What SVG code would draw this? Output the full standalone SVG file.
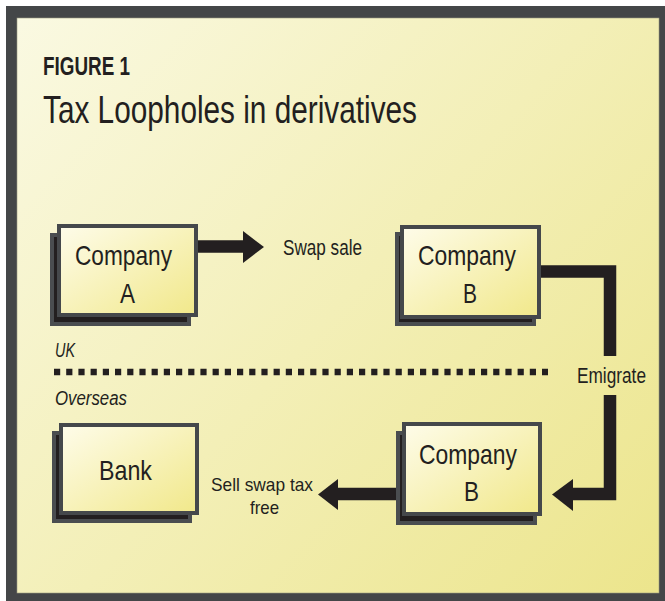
<svg xmlns="http://www.w3.org/2000/svg" width="665" height="601" viewBox="0 0 665 601">
  <defs>
    <linearGradient id="bg" gradientUnits="userSpaceOnUse" x1="17" y1="18" x2="659" y2="593">
      <stop offset="0" stop-color="#faf9e2"/>
      <stop offset="1" stop-color="#ece58c"/>
    </linearGradient>
    <linearGradient id="boxfill" x1="0" y1="0" x2="1" y2="1">
      <stop offset="0" stop-color="#fefcea"/>
      <stop offset="1" stop-color="#f1e88a"/>
    </linearGradient>
  </defs>
  <style>
    .txt { font-family: "Liberation Sans Narrow", "Liberation Sans", Arial, sans-serif; fill: #231f20; }
    .box { fill: url(#boxfill); stroke: #45484b; stroke-width: 4; }
    .shadow { fill: #231f20; stroke: #4a4d50; stroke-width: 4; }
    .bar { fill: none; stroke: #231f20; stroke-width: 12.5; stroke-linejoin: miter; stroke-linecap: butt; }
    .head { fill: #231f20; }
    .boxlabel { font-size: 28px; text-anchor: middle; }
    .label { font-size: 22px; }
    .small { font-size: 19px; }
  </style>

  <!-- frame -->
  <rect x="6" y="6" width="659" height="595" fill="#444648"/>
  <rect x="17" y="18" width="642" height="575" fill="url(#bg)" stroke="#9a9a80" stroke-width="0.6"/>

  <!-- titles -->
  <text class="txt" x="43" y="75" font-size="25" font-weight="bold" textLength="87" lengthAdjust="spacingAndGlyphs">FIGURE 1</text>
  <text class="txt" x="43" y="123" font-size="39" textLength="374" lengthAdjust="spacingAndGlyphs">Tax Loopholes in derivatives</text>

  <!-- region labels and divider -->
  <g id="divider">
    <text class="txt" x="55" y="357" font-size="20" font-style="italic" textLength="20" lengthAdjust="spacingAndGlyphs">UK</text>
    <line x1="54" y1="372" x2="548" y2="372" stroke="#231f20" stroke-width="6.5" stroke-dasharray="6.2 6"/>
    <text class="txt" x="55" y="405" font-size="20" font-style="italic" textLength="72" lengthAdjust="spacingAndGlyphs">Overseas</text>
  </g>

  <!-- connectors -->
  <g id="connectors">
    <line class="bar" x1="198" y1="246.5" x2="244" y2="246.5"/>
    <polygon class="head" points="243,231 264,247 243,263"/>
    <text class="txt label" x="283" y="255" textLength="79" lengthAdjust="spacingAndGlyphs">Swap sale</text>

    <path class="bar" d="M541,271.5 H610 V356"/>
    <path class="bar" d="M610,395 V494 H572"/>
    <polygon class="head" points="573,479 552,494.5 573,511"/>
    <text class="txt label" x="577" y="383" textLength="69" lengthAdjust="spacingAndGlyphs">Emigrate</text>

    <line class="bar" x1="400" y1="494" x2="337" y2="494"/>
    <polygon class="head" points="338,479 318,494.5 338,510"/>
    <text class="txt small" x="211" y="491" textLength="102" lengthAdjust="spacingAndGlyphs">Sell swap tax</text>
    <text class="txt small" x="250" y="514" textLength="29" lengthAdjust="spacingAndGlyphs">free</text>
  </g>

  <!-- nodes -->
  <g id="company-a">
    <rect class="shadow" x="52" y="235" width="137" height="89"/>
    <rect class="box" x="59" y="226" width="137" height="89"/>
    <text class="txt boxlabel" x="123.5" y="265" textLength="97" lengthAdjust="spacingAndGlyphs">Company</text>
    <text class="txt boxlabel" x="127.5" y="303" textLength="15" lengthAdjust="spacingAndGlyphs">A</text>
  </g>

  <g id="company-b-uk">
    <rect class="shadow" x="397" y="234" width="137" height="90"/>
    <rect class="box" x="402" y="227" width="137" height="90"/>
    <text class="txt boxlabel" x="467" y="265" textLength="98" lengthAdjust="spacingAndGlyphs">Company</text>
    <text class="txt boxlabel" x="470" y="303" textLength="14" lengthAdjust="spacingAndGlyphs">B</text>
  </g>

  <g id="bank">
    <rect class="shadow" x="54" y="433" width="136" height="88"/>
    <rect class="box" x="61" y="425" width="136" height="88"/>
    <text class="txt boxlabel" x="125.5" y="480" textLength="53" lengthAdjust="spacingAndGlyphs">Bank</text>
  </g>

  <g id="company-b-overseas">
    <rect class="shadow" x="398" y="433" width="137" height="90"/>
    <rect class="box" x="404" y="424" width="136" height="90"/>
    <text class="txt boxlabel" x="468" y="464" textLength="98" lengthAdjust="spacingAndGlyphs">Company</text>
    <text class="txt boxlabel" x="471.5" y="501" textLength="15" lengthAdjust="spacingAndGlyphs">B</text>
  </g>
</svg>
